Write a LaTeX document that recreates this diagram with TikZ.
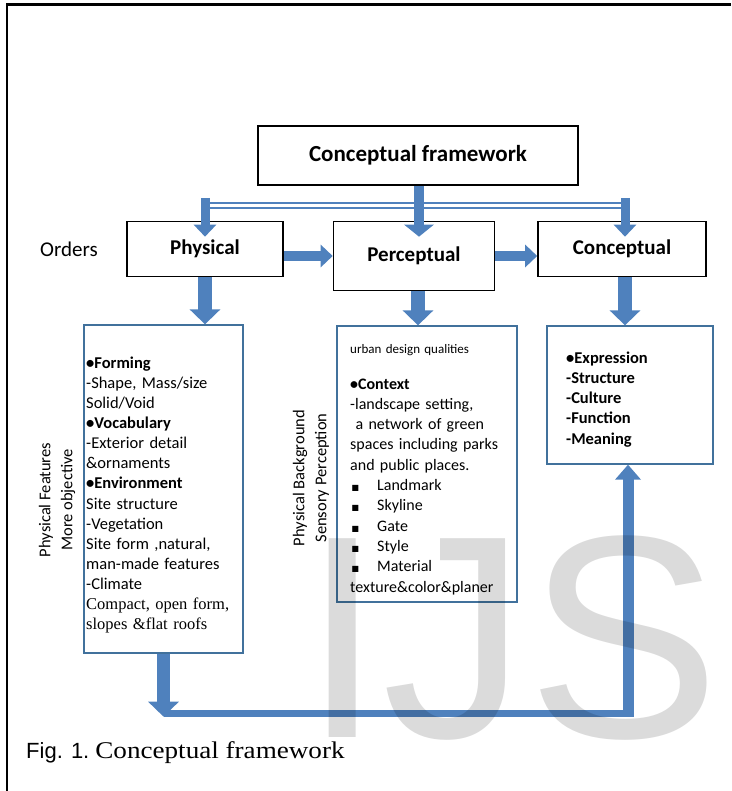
\documentclass[tikz,border=0pt]{standalone}
\usepackage{fontspec}
\setmainfont{Carlito}
\newfontfamily\timesface{Liberation Serif}
\newfontfamily\arialface{Liberation Sans}
\newfontfamily\symface{DejaVu Sans}
\usetikzlibrary{arrows.meta,calc}
\definecolor{flowblue}{HTML}{4F81BD}
\definecolor{edgeblue}{HTML}{41719C}
\newcommand{\sqbullet}{\makebox[27pt][l]{\hspace{1.5pt}{\symface\fontsize{8}{8}\selectfont ■}}}

\begin{document}
\begin{tikzpicture}[
  x=1pt, y=-1pt,
  every node/.style={inner sep=0pt},
  orderbox/.style={draw, line width=1.6pt, font=\fontsize{21}{25}\selectfont\bfseries},
  itembox/.style={draw=edgeblue, line width=1.3pt},
  itemtext/.style={anchor=base west, align=left, text width=165pt, font=\fontsize{16.5}{20.15}\selectfont},
  sidelabel/.style={rotate=90, align=center, font=\fontsize{16.5}{22}\selectfont},
  thickflow/.style={line width=14pt, flowblue, -{Triangle[width=30pt,length=15pt]}},
  thinflow/.style={line width=9pt, flowblue, -{Triangle[width=22pt,length=12pt]}},
  busbar/.style={draw=flowblue, line width=2pt, double=white, double distance=3pt}
]
\useasboundingbox (0,0) rectangle (731,791);
\draw[line width=2.5pt] (7,791) -- (7,4.5) -- (731,4.5);

% header and the three orders
\node[orderbox, minimum width=320pt, minimum height=59pt, font=\fontsize{23}{27}\selectfont\bfseries] (frame) at (418,155.5) {Conceptual framework};
\node[orderbox, minimum width=156pt, minimum height=55pt] (phys) at (205,249) {Physical};
\node[orderbox, minimum width=161pt, minimum height=69pt] (perc) at (414,256) {Perceptual};
\node[orderbox, minimum width=168pt, minimum height=55pt] (conc) at (622,249) {Conceptual};
\node[anchor=west, font=\fontsize{21}{25}\selectfont] (orders) at (40,249) {Orders};

% content boxes
\node[itembox, minimum width=159pt, minimum height=328pt] (physbox) at (163.5,489) {};
\node[itembox, minimum width=180pt, minimum height=276pt] (percbox) at (427,464) {};
\node[itembox, minimum width=166pt, minimum height=138pt] (concbox) at (630,395) {};

\node[itemtext] (phystext) at (86,368)
  {{\bfseries •Forming}\\
   -Shape, Mass/size\\
   Solid/Void\\
   {\bfseries •Vocabulary}\\
   -Exterior detail\\
   \&ornaments\\
   {\bfseries •Environment}\\
   Site structure\\
   -Vegetation\\
   Site form ,natural,\\
   man-made features\\
   -Climate\\
   {\timesface Compact, open form,}\\
   {\timesface slopes \&flat roofs}};
\node[itemtext, font=\fontsize{13}{16}\selectfont] (perchead) at (350,353) {urban design qualities};
\node[itemtext, font=\fontsize{16}{20.3}\selectfont] (perctext) at (350,389)
  {{\bfseries •Context}\\
   -landscape setting,\\
   \ a network of green\\
   spaces including parks\\
   and public places.\\
   \sqbullet Landmark\\
   \sqbullet Skyline\\
   \sqbullet Gate\\
   \sqbullet Style\\
   \sqbullet Material\\
   texture\&color\&planer};
\node[itemtext, font=\fontsize{16.5}{20.25}\selectfont\bfseries] (conctext) at (566,363)
  {•Expression\\
   -Structure\\
   -Culture\\
   -Function\\
   -Meaning};

\node[sidelabel] (physside) at (57,500) {Physical Features\\More objective};
\node[sidelabel] (percside) at (311,478) {Physical Background\\Sensory Perception};

% distribution from the header
\coordinate (busL) at (205,206);
\coordinate (busR) at (625,206);
\draw[busbar] (busL) -- (busR);
\draw[thinflow, line width=10pt, -{Triangle[width=29pt,length=12pt]}] ($(frame.south)+(1,0)$) -- ($(perc.north)+(5,16)$);
\draw[thinflow] ($(busL)+(0,-8)$) -- ($(phys.north)+(0,16)$);
\draw[thinflow] ($(busR)+(0,-8)$) -- ($(conc.north)+(3,16)$);

% order to order
\draw[thinflow, line width=10pt] (phys.east |- perc) -- (perc.west);
\draw[thinflow, line width=10pt] (perc.east) -- (conc.west |- perc);

% order to content
\draw[thickflow] (phys.south) -- (phys.south |- physbox.north);
\draw[thickflow] ($(perc.south)+(4,0)$) -- ($(perc.south |- percbox.north)+(4,0)$);
\draw[thickflow] ($(conc.south)+(3,0)$) -- ($(conc.south |- concbox.north)+(3,0)$);

% feedback loop
\coordinate (loopL) at ($(physbox.south)+(0,63)$);
\coordinate (loopR) at ($(concbox.south |- loopL)+(-2,0)$);
\draw[thickflow, line width=13pt] (physbox.south) -- (loopL);
\draw[line width=7pt, flowblue] ($(loopL)+(0,-3.5)$) -- ($(loopR)+(5.5,-3.5)$);
\draw[thickflow, line width=11pt, -{Triangle[width=25pt,length=15pt]}] (loopR) -- (loopR |- concbox.south);

% watermark
\node[anchor=base west, font=\arialface\fontsize{289}{289}\selectfont, text=black, text opacity=.14] (mark) at (302,737) {IJS};

\node[anchor=base west] (caption) at (26,758)
  {{\arialface\fontsize{22}{26}\selectfont Fig. 1.}\hspace{6pt}\scalebox{1.13}[1]{\timesface\fontsize{24}{28}\selectfont Conceptual framework}};
\end{tikzpicture}
\end{document}
